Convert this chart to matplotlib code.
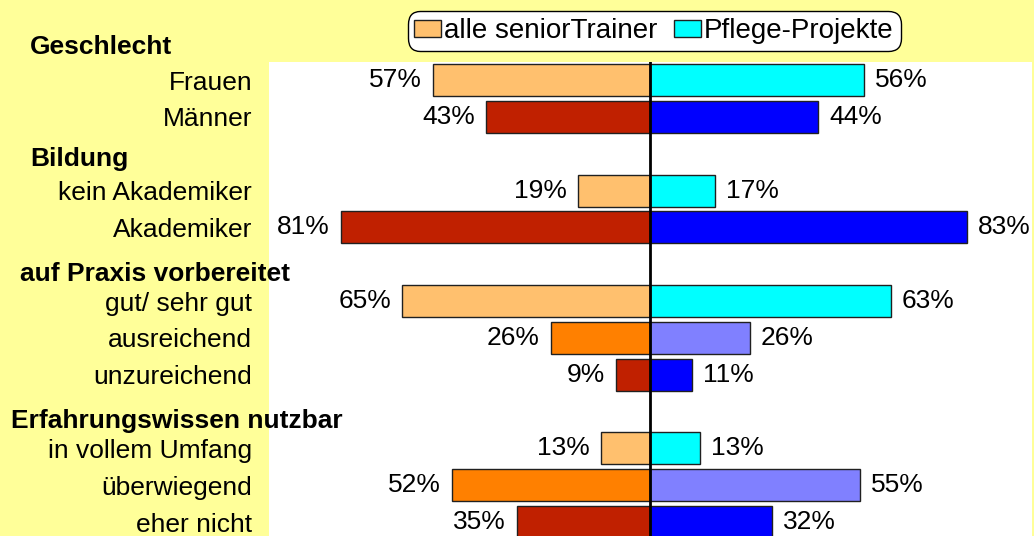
import numpy as np
import matplotlib.pyplot as plt
import matplotlib.transforms as mtransforms
from matplotlib.patches import Patch

plt.rcParams['font.family'] = ['Liberation Sans', 'DejaVu Sans']

# data
groups = ['Geschlecht', 'Bildung', 'auf Praxis vorbereitet', 'Erfahrungswissen nutzbar']
rows = [['Frauen', 'Männer'],
        ['kein Akademiker', 'Akademiker'],
        ['gut/ sehr gut', 'ausreichend', 'unzureichend'],
        ['in vollem Umfang', 'überwiegend', 'eher nicht']]
senior = [57, 43, 19, 81, 65, 26, 9, 13, 52, 35]   # alle seniorTrainer
pflege = [56, 44, 17, 83, 63, 26, 11, 13, 55, 32]  # Pflege-Projekte
series = ['alle seniorTrainer', 'Pflege-Projekte']

c_senior = ['#FFC06E', '#C02000', '#FFC06E', '#C02000', '#FFC06E', '#FF8000', '#C02000',
            '#FFC06E', '#FF8000', '#C02000']
c_pflege = ['#00FFFF', '#0000FF', '#00FFFF', '#0000FF', '#00FFFF', '#8080FF', '#0000FF',
            '#00FFFF', '#8080FF', '#0000FF']

# slot positions: one empty slot between groups
head_off = [0.9, 0.85, 0.74, 0.74]
pos = []
head_pos = []
slot = 0
for g, off in zip(rows, head_off):
    head_pos.append(slot - off)
    for r in g:
        pos.append(slot)
        slot += 1
    slot += 1
labels = [r for g in rows for r in g]

fs = 19
fig = plt.figure(figsize=(10.34, 5.36), dpi=100)
fig.patch.set_facecolor('#FFFF99')
ax = fig.add_axes([0.260, 0.0, 0.738, 0.8843])
ax.set_facecolor('white')

ax.barh(pos, [-v for v in senior], height=0.87, color=c_senior, edgecolor='#202020', linewidth=1)
ax.barh(pos, pflege, height=0.87, color=c_pflege, edgecolor='#202020', linewidth=1)
ax.axvline(0, color='black', linewidth=2)

for p, v in zip(pos, senior):
    ax.text(-v - 3, p, f'{v}%', ha='right', va='center', fontsize=fs)
for p, v in zip(pos, pflege):
    ax.text(v + 2.8, p, f'{v}%', ha='left', va='center', fontsize=fs)

ax.set_xlim(-100, 100)
ax.set_ylim(12.38, -0.49)
ax.set_yticks(pos)
ax.set_yticklabels(labels, fontsize=fs)
ax.tick_params(axis='y', length=0, pad=12)
ax.set_xticks([])
for s in ax.spines.values():
    s.set_visible(False)

# group headers
trans = mtransforms.blended_transform_factory(fig.transFigure, ax.transData)
head_x = [30, 30, 20, 11]
for g, y, x in zip(groups, head_pos, head_x):
    ax.text(x / 1034, y, g, transform=trans, fontsize=fs, fontweight='bold',
            ha='left', va='center', clip_on=False)

handles = [Patch(facecolor=c_senior[0], edgecolor='#202020', linewidth=1),
           Patch(facecolor=c_pflege[0], edgecolor='#202020', linewidth=1)]
leg = fig.legend(handles, series, loc='center', bbox_to_anchor=(654 / 1034, 1 - 31 / 536),
                 ncol=2, fontsize=20, frameon=True, fancybox=True, handlelength=0.95,
                 handleheight=0.57, handletextpad=0.12, columnspacing=0.6, borderpad=0.25,
                 borderaxespad=0)
leg.get_frame().set_edgecolor('black')
leg.get_frame().set_linewidth(1)
leg.get_frame().set_alpha(1)
leg.get_frame().set_boxstyle('round,pad=0,rounding_size=0.45')

plt.savefig('out.png', facecolor=fig.get_facecolor())
